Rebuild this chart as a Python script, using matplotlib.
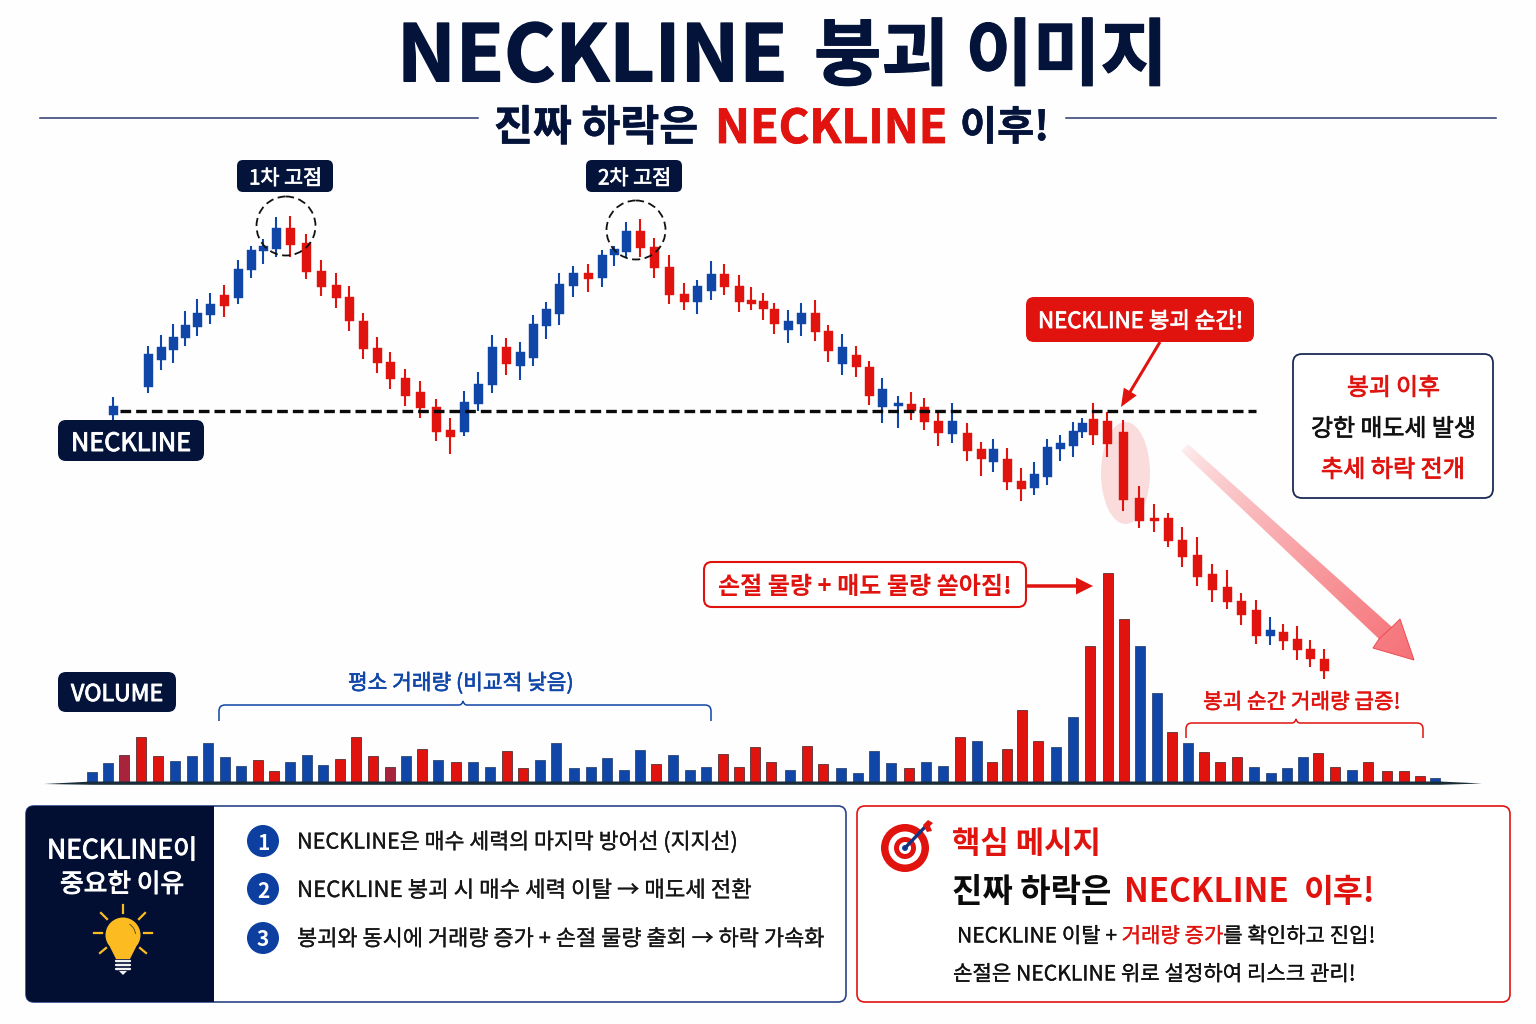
import numpy as np
import matplotlib
matplotlib.use("Agg")
import matplotlib.pyplot as plt
import matplotlib.patheffects as pe
from matplotlib.patches import FancyBboxPatch, Circle, Ellipse, Polygon, PathPatch, Wedge
from matplotlib.path import Path

KR = ['Noto Sans CJK KR', 'DejaVu Sans']
plt.rcParams['font.family'] = KR

NAVY = '#04133a'
RED = '#e0130f'
BLUE = '#0f46a8'
DARKRED = '#a8233c'

# ---------- data ----------
NECKLINE = 89
candle_time = [113,148,161,173,185,197,210,224,238,251,263,276,290,306,321,336,349,363,377,390,405,420,436,450,464,478,492,506,520,533,546,559,573,588,602,614,626,640,654,669,684,697,711,724,739,751,763,774,788,801,815,828,842,856,869,882,898,911,924,938,952,967,981,993,1007,1021,1034,1047,1060,1073,1082,1093,1107,1123,1139,1154,1168,1182,1197,1212,1227,1241,1256,1270,1283,1297,1310,1324]
candle_high = [103,154,165,176,189,201,207,215,240,254,261,283,284,266,240,227,214,187,163,148,131,119,101,82,109,128,165,162,158,185,198,227,234,236,250,254,278,281,262,245,217,220,239,236,225,213,207,197,190,197,200,175,166,154,139,122,104,108,102,88,97,77,58,61,52,32,38,61,65,78,82,97,88,80,14,-4,-13,-27,-37,-64,-70,-93,-100,-117,-124,-126,-140,-149]
candle_top = [94,146,153,163,175,187,196,205,231,250,254,272,272,257,229,215,203,179,152,138,122,108,93,70,98,116,153,153,148,176,191,216,227,227,245,251,269,269,253,233,206,214,226,226,214,200,199,191,179,187,187,169,153,145,133,111,97,96,93,79,79,67,51,51,41,19,26,53,57,69,77,81,79,68,2,-18,-18,-40,-55,-74,-87,-101,-110,-130,-132,-139,-149,-159]
candle_bottom = [85,113,140,150,162,173,185,194,202,230,249,251,255,228,213,202,179,151,137,121,104,92,68,63,68,96,115,136,134,142,174,186,214,221,222,245,248,252,232,205,198,198,209,213,198,196,191,176,170,176,168,149,136,133,104,93,94,89,78,67,66,49,41,38,18,11,12,23,51,54,68,65,56,0,-21,-21,-41,-57,-77,-90,-102,-115,-136,-136,-141,-150,-159,-171]
candle_low = [80,107,130,137,154,164,176,183,196,222,236,243,243,221,204,192,169,141,127,111,94,82,59,46,64,89,107,125,120,134,161,175,203,208,213,234,242,243,222,196,190,186,200,205,188,190,180,166,157,164,159,138,125,123,95,77,72,80,70,54,57,39,24,28,10,-1,5,15,39,43,62,55,43,-11,-28,-32,-47,-67,-86,-102,-109,-125,-144,-145,-150,-160,-167,-179]
candle_kind = "BBBBBBBRBBBB" "RRRRRRRRRRRR" "BBBR" "BBBBBR" "BBB" "RRRR" "BB" "RRRRR" "BB" "RR" "B" "RR" "BB" "RRR" "B" "RR" "B" "RR" "BBBBB" "RRRRRRRRRRRR" "B" "RRRR"

volume_time = [92,108,124,141,158,175,192,208,225,241,258,274,290,307,323,340,356,373,390,406,422,438,456,473,490,507,523,540,556,574,591,607,624,640,656,673,690,706,723,739,755,
               771,790,807,823,841,858,874,891,909,926,943,960,977,992,1007,1022,1038,1056,1073,1090,1108,1124,1140,1157,1172,1188,1204,1220,1237,1254,1271,1287,1303,1318,1335,1352,1368,1387,1404,1420,1435]
volume = [10,19,27,45,26,21,26,39,25,16,22,11,20,27,17,23,45,26,15,26,33,22,20,20,15,31,14,22,39,14,15,24,12,32,18,27,12,15,28,15,35,
          20,12,36,18,14,9,31,19,14,20,16,45,41,20,33,72,41,35,65,136,209,163,136,89,50,39,30,20,25,15,9,14,25,29,15,12,20,11,11,6,4]
volume_kind = "BBDRRBBBBBRRBBBRRRDBRBRBBRRBBBBBBBRBBBRRR" "RBRRBBBBRBBRBRRRRBBRRRBBRBRRRBBBBRRBRRRRB"

reasons = ["NECKLINE은 매수 세력의 마지막 방어선 (지지선)",
           "NECKLINE 봉괴 시 매수 세력 이탈 → 매도세 전환",
           "봉괴와 동시에 거래량 증가 + 손절 물량 출회 → 하락 가속화"]

# ---------- canvas ----------
fig = plt.figure(figsize=(15.36, 10.24), dpi=100, facecolor='#fefefe')
def layer(xlim, ylim):
    a = fig.add_axes([0, 0, 1, 1])
    a.set_xlim(*xlim); a.set_ylim(*ylim); a.axis('off'); a.patch.set_alpha(0)
    return a
under = layer((0, 1536), (1024, 0))
price = layer((0, 1536), (-524, 500))
vol = layer((0, 1536), (-242, 782))
ax = layer((0, 1536), (1024, 0))
renderer = fig.canvas.get_renderer()

def text_fit(segs, x0, x1, y, size, weight='regular', stroke=0.0, target=ax):
    """segs: list of (text, colour) fitted to span x0..x1 in pixels, centred on y"""
    full = ''.join(s for s, _ in segs)
    t = target.text(0, 0, full, fontsize=size, fontweight=weight)
    w = t.get_window_extent(renderer).width
    t.remove()
    size = size * (x1 - x0) / w
    x = x0; prefix = ''
    for s, c in segs:
        tx = target.text(x, y, s, fontsize=size, fontweight=weight, color=c, ha='left', va='center_baseline', zorder=10)
        if stroke:
            tx.set_path_effects([pe.withStroke(linewidth=stroke, foreground=c)])
        prefix += s
        t = target.text(0, 0, prefix + '.', fontsize=size, fontweight=weight)
        d = target.text(0, 0, '.', fontsize=size, fontweight=weight)
        x = x0 + t.get_window_extent(renderer).width - d.get_window_extent(renderer).width
        t.remove(); d.remove()
    return size

def box(x0, y0, x1, y1, fc, ec='none', lw=0, r=8, target=ax, z=3):
    p = FancyBboxPatch((x0, y0), x1 - x0, y1 - y0, boxstyle=f'round,pad=0,rounding_size={r}',
                       fc=fc, ec=ec, lw=lw, zorder=z)
    target.add_patch(p)
    return p

def bracket(x0, x1, xm, ytop, ybot, color):
    r = 6
    verts = [(x0, ybot), (x0, ytop + r), (x0, ytop), (x0 + r, ytop), (xm - 4, ytop), (xm - 1, ytop), (xm, ytop - 4),
             (xm + 1, ytop), (xm + 4, ytop), (x1 - r, ytop), (x1, ytop), (x1, ytop + r), (x1, ybot)]
    codes = [Path.MOVETO, Path.LINETO, Path.CURVE3, Path.CURVE3, Path.LINETO, Path.CURVE3, Path.CURVE3,
             Path.CURVE3, Path.CURVE3, Path.LINETO, Path.CURVE3, Path.CURVE3, Path.LINETO]
    ax.add_patch(PathPatch(Path(verts, codes), fc='none', ec=color, lw=1.1, zorder=5))

def arrow(x0, y0, x1, y1, color, shaft, head_w, head_l):
    d = np.array([x1 - x0, y1 - y0], float); L = np.hypot(*d); d /= L
    n = np.array([-d[1], d[0]])
    a, b = np.array([x0, y0]), np.array([x1, y1])
    c = b - d * head_l
    pts = [a + n * shaft / 2, c + n * shaft / 2, c + n * head_w / 2, b, c - n * head_w / 2, c - n * shaft / 2, a - n * shaft / 2]
    ax.add_patch(Polygon(pts, closed=True, fc=color, ec='none', zorder=6))

# ---------- header ----------
text_fit([("NECKLINE", NAVY)], 397, 788, 50, 57, 'bold', 1.1)
text_fit([("붕괴 이미지", NAVY)], 814, 1168, 50, 57, 'bold', 0.8)
ax.plot([40, 478], [118, 118], color='#2a3a6a', lw=1.1)
ax.plot([1066, 1496], [118, 118], color='#2a3a6a', lw=1.1)
text_fit([("진짜 하락은", NAVY)], 494, 698, 124, 33, 'bold', 0.4)
text_fit([("NECKLINE", RED)], 715, 947, 124, 33, 'bold', 0.6)
text_fit([("이후!", NAVY)], 960, 1049, 124, 33, 'bold', 0.4)

# ---------- candles ----------
under.add_patch(Ellipse((1125.5, 473), 49, 102, fc='#fadcdc', ec='none'))
colors = {'B': BLUE, 'R': RED, 'D': DARKRED}
for t, h, o, c, l, k in zip(candle_time, candle_high, candle_top, candle_bottom, candle_low, candle_kind, strict=True):
    col = colors[k]
    price.vlines(t, l, h, color=col, lw=1.5, zorder=2)
    price.bar(t, o - c, bottom=c, width=9, color=col, edgecolor=col, lw=0.3, zorder=3)
price.plot([120, 1256], [NECKLINE, NECKLINE], color='#0a0a0a', lw=2.4, ls=(0, (3.2, 1.5)), zorder=6)

# ---------- volume ----------
for t, v, k in zip(volume_time, volume, volume_kind, strict=True):
    vol.bar(t, v, width=10.2, color=colors[k], edgecolor='#3a1f22' if k != 'B' else '#1c3560', lw=0.5, zorder=3)
ax.add_patch(Polygon([(44, 784), (92, 781.5), (1440, 781.5), (1482, 783.5), (1440, 784.8), (92, 784.8)],
                     closed=True, fc='#1a2c38', ec='none', zorder=4))

# ---------- labels on the chart ----------
for x0, label in ((237, "1차 고점"), (586, "2차 고점")):
    box(x0, 160, x0 + 96, 192, NAVY, r=6)
    text_fit([(label, 'white')], x0 + 12, x0 + 85, 176, 15, 'regular', 0.5)
for cx, cy in ((286, 226), (636, 230)):
    ax.add_patch(Circle((cx, cy), 29.5, fc='none', ec='#111111', lw=1.3, ls=(0, (4.5, 2.5)), zorder=7))

box(58, 420, 204, 461, NAVY, r=8)
text_fit([("NECKLINE", 'white')], 71, 191, 441, 18, 'regular', 0.7)
box(58, 672, 176, 712, NAVY, r=8)
text_fit([("VOLUME", 'white')], 71, 163, 692, 17, 'regular', 0.7)

box(1026, 297, 1254, 342, RED, r=8)
text_fit([("NECKLINE 봉괴 순간!", 'white')], 1038, 1243, 319, 17, 'regular', 0.6)
arrow(1160, 342, 1121, 407, RED, 3, 15, 18)

box(1293, 354, 1493, 498, 'white', ec='#1b2b55', lw=1.3, r=9)
text_fit([("봉괴 이후", RED)], 1347, 1440, 386, 17, 'regular', 0.6)
text_fit([("강한 매도세 발생", '#111111')], 1311, 1476, 427, 17, 'regular', 0.5)
text_fit([("추세 하락 전개", RED)], 1321, 1465, 467, 17, 'regular', 0.6)

# fading trend arrow
poly = [(1181, 451), (1379, 639), (1373, 648), (1414, 660), (1400, 619), (1392, 627), (1188, 444)]
gx, gy = np.meshgrid(np.linspace(1170, 1420, 250), np.linspace(440, 665, 225))
tt = np.clip(((gx - 1185) * 228 + (gy - 447) * 213) / (228**2 + 213**2), 0, 1)
rgba = np.zeros(gx.shape + (4,))
rgba[..., 0], rgba[..., 1], rgba[..., 2] = 0.95, 0.25, 0.28
rgba[..., 3] = 0.08 + 0.66 * tt ** 0.7
im = ax.imshow(rgba, extent=(1170, 1420, 665, 440), aspect='auto', zorder=5, interpolation='bilinear')
pp = Polygon(poly, closed=True, fc='none', ec='none', transform=ax.transData)
ax.add_patch(pp)
im.set_clip_path(pp)
ax.add_patch(Polygon([(1379, 639), (1373, 648), (1414, 660), (1400, 619), (1392, 627)], closed=True, fc='none', ec='#ee4a50', lw=0.7, zorder=6))
ax.set_xlim(0, 1536); ax.set_ylim(1024, 0)

box(704, 562, 1026, 607, 'white', ec=RED, lw=1.5, r=8)
text_fit([("손절 물량 + 매도 물량 쏟아짐!", RED)], 718, 1012, 585, 17, 'bold')
arrow(1026, 586, 1093, 586, RED, 3.5, 17, 17)

text_fit([("평소 거래량 (비교적 낮음)", BLUE)], 348, 573, 681, 15, 'regular', 0.4)
bracket(219, 711, 463, 705, 721, BLUE)
text_fit([("봉괴 순간 거래량 급증!", RED)], 1203, 1400, 700, 15, 'regular', 0.4)
bracket(1186, 1423, 1296, 723, 738, RED)

# ---------- lower-left panel ----------
box(26, 806, 846, 1002, 'white', ec='#2c4488', lw=1.2, r=8)
box(26, 806, 213, 1002, '#020f33', r=8, z=4)
ax.add_patch(Polygon([(190, 806), (213.5, 806), (213.5, 1002), (190, 1002)], closed=True, fc='#020f33', ec='none', zorder=4))
text_fit([("NECKLINE이", 'white')], 47, 197, 848, 19, 'regular', 0.7)
text_fit([("중요한 이유", 'white')], 60, 184, 882, 19, 'regular', 0.7)
# light bulb
Y = '#fdbb22'
ax.add_patch(Circle((123, 935), 17.5, fc=Y, ec='none', zorder=6))
ax.add_patch(Polygon([(110, 947), (136, 947), (130, 959), (116, 959)], closed=True, fc=Y, ec='none', zorder=6))
ax.add_patch(Wedge((123, 935), 13, 300, 355, width=0.9, fc='#5a4a20', ec='none', zorder=7))
for ys in (960.5, 964.5, 968.5):
    ax.plot([116, 130], [ys, ys], color='#f2f2f2', lw=1.7, zorder=6, solid_capstyle='round')
ax.add_patch(Polygon([(119, 971), (127, 971), (123, 975)], closed=True, fc='#f2f2f2', ec='none', zorder=6))
for (a0, b0, a1, b1) in ((123, 905, 123, 913), (101, 913, 107, 919), (145, 913, 139, 919), (94, 933, 102, 933),
                         (152, 933, 144, 933), (100, 953, 106, 948), (146, 953, 140, 948)):
    ax.plot([a0, a1], [b0, b1], color=Y, lw=1.6, zorder=6)
for i, (line, yy, xend) in enumerate(zip(reasons, (840, 888, 937), (737, 751, 823))):
    ax.add_patch(Circle((263, yy + 1), 16, fc='#0d3fa0', ec='none', zorder=6))
    ax.text(263, yy + 1, str(i + 1), color='white', fontsize=15, fontweight='bold', ha='center', va='center_baseline', zorder=7)
    text_fit([(line, '#161616')], 297, xend, yy, 15, 'regular', 0.2)

# ---------- lower-right panel ----------
box(857, 806, 1510, 1002, 'white', ec=RED, lw=1.2, r=8)
for r_, c_ in ((24, RED), (16.5, 'white'), (11, RED), (6, 'white'), (3, BLUE)):
    ax.add_patch(Circle((905, 848), r_, fc=c_, ec='none', zorder=6))
ax.plot([905, 925], [848, 827], color='#12337e', lw=2.4, zorder=7)
ax.add_patch(Polygon([(923, 825), (928, 820), (933, 823), (930, 826), (932, 831), (927, 832)], closed=True, fc=RED, ec='none', zorder=7))
text_fit([("핵심 메시지", RED)], 952, 1101, 841, 22, 'bold')
text_fit([("진짜 하락은", '#0b0b0b')], 952, 1112, 889, 25, 'bold')
text_fit([("NECKLINE", RED)], 1124, 1289, 889, 25, 'bold')
text_fit([("이후!", RED)], 1304, 1376, 889, 25, 'bold')
text_fit([("NECKLINE 이탈 + ", '#111111'), ("거래량 증가", RED), ("를 확인하고 진입!", '#111111')], 957, 1375, 934, 15, 'regular', 0.2)
text_fit([("손절은 NECKLINE 위로 설정하여 리스크 관리!", '#111111')], 953, 1355, 972, 15, 'regular', 0.2)

fig.savefig('out.png', dpi=100, facecolor=fig.get_facecolor())
